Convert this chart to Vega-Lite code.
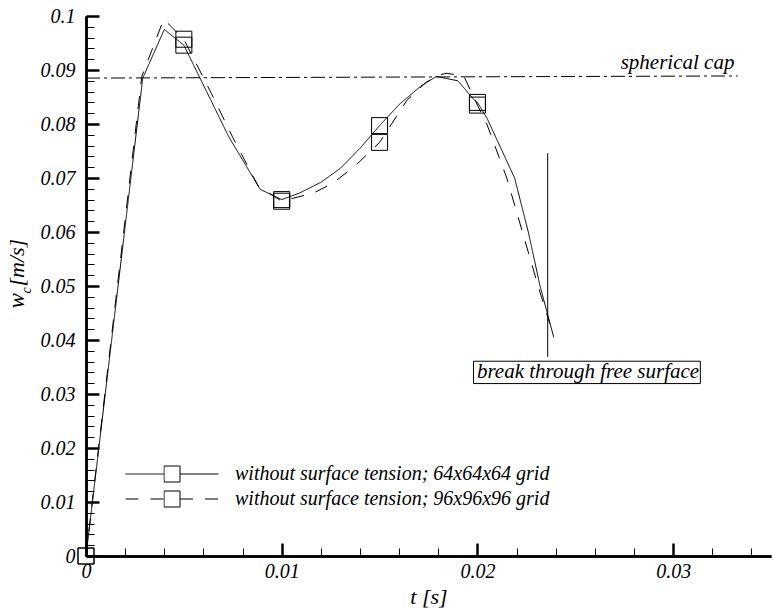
{
  "$schema": "https://vega.github.io/schema/vega-lite/v6.json",
  "width": 685,
  "height": 540,
  "autosize": "none",
  "padding": {"left": 86, "top": 16, "right": 2, "bottom": 55},
  "background": "white",
  "config": {
    "view": {"stroke": null},
    "font": "Liberation Serif, DejaVu Serif, serif",
    "axis": {
      "grid": false,
      "domainColor": "black",
      "tickColor": "black",
      "labelColor": "black",
      "titleColor": "black",
      "labelFont": "Liberation Serif, DejaVu Serif, serif",
      "titleFont": "Liberation Serif, DejaVu Serif, serif",
      "labelFontStyle": "italic",
      "titleFontStyle": "italic",
      "titleFontWeight": "normal",
      "labelFlush": false,
      "labelOverlap": false,
      "domainWidth": 2.5
    },
    "legend": {
      "labelFont": "Liberation Serif, DejaVu Serif, serif"
    }
  },
  "datasets": {
    "curves": [
      {"t": 0, "w": 0, "grid": "without surface tension; 64x64x64 grid"},
      {"t": 0.0029, "w": 0.0885, "grid": "without surface tension; 64x64x64 grid"},
      {"t": 0.004, "w": 0.0975, "grid": "without surface tension; 64x64x64 grid"},
      {"t": 0.005, "w": 0.0946, "grid": "without surface tension; 64x64x64 grid"},
      {"t": 0.0073, "w": 0.0776, "grid": "without surface tension; 64x64x64 grid"},
      {"t": 0.0089, "w": 0.0679, "grid": "without surface tension; 64x64x64 grid"},
      {"t": 0.01, "w": 0.066, "grid": "without surface tension; 64x64x64 grid"},
      {"t": 0.0109, "w": 0.0672, "grid": "without surface tension; 64x64x64 grid"},
      {"t": 0.012, "w": 0.0692, "grid": "without surface tension; 64x64x64 grid"},
      {"t": 0.013, "w": 0.0718, "grid": "without surface tension; 64x64x64 grid"},
      {"t": 0.014, "w": 0.0755, "grid": "without surface tension; 64x64x64 grid"},
      {"t": 0.015, "w": 0.0797, "grid": "without surface tension; 64x64x64 grid"},
      {"t": 0.016, "w": 0.0836, "grid": "without surface tension; 64x64x64 grid"},
      {"t": 0.0171, "w": 0.087, "grid": "without surface tension; 64x64x64 grid"},
      {"t": 0.0179, "w": 0.0888, "grid": "without surface tension; 64x64x64 grid"},
      {"t": 0.019, "w": 0.088, "grid": "without surface tension; 64x64x64 grid"},
      {"t": 0.0198, "w": 0.0846, "grid": "without surface tension; 64x64x64 grid"},
      {"t": 0.02, "w": 0.084, "grid": "without surface tension; 64x64x64 grid"},
      {"t": 0.0205, "w": 0.081, "grid": "without surface tension; 64x64x64 grid"},
      {"t": 0.0219, "w": 0.07, "grid": "without surface tension; 64x64x64 grid"},
      {"t": 0.0226, "w": 0.06, "grid": "without surface tension; 64x64x64 grid"},
      {"t": 0.0232, "w": 0.05, "grid": "without surface tension; 64x64x64 grid"},
      {"t": 0.0239, "w": 0.0405, "grid": "without surface tension; 64x64x64 grid"},
      {"t": 0, "w": 0, "grid": "without surface tension; 96x96x96 grid"},
      {"t": 0.00285, "w": 0.0888, "grid": "without surface tension; 96x96x96 grid"},
      {"t": 0.00397, "w": 0.0994, "grid": "without surface tension; 96x96x96 grid"},
      {"t": 0.005, "w": 0.0957, "grid": "without surface tension; 96x96x96 grid"},
      {"t": 0.0064, "w": 0.0857, "grid": "without surface tension; 96x96x96 grid"},
      {"t": 0.0075, "w": 0.0775, "grid": "without surface tension; 96x96x96 grid"},
      {"t": 0.0088, "w": 0.0685, "grid": "without surface tension; 96x96x96 grid"},
      {"t": 0.01, "w": 0.0657, "grid": "without surface tension; 96x96x96 grid"},
      {"t": 0.0116, "w": 0.0672, "grid": "without surface tension; 96x96x96 grid"},
      {"t": 0.0126, "w": 0.069, "grid": "without surface tension; 96x96x96 grid"},
      {"t": 0.0138, "w": 0.0724, "grid": "without surface tension; 96x96x96 grid"},
      {"t": 0.015, "w": 0.0766, "grid": "without surface tension; 96x96x96 grid"},
      {"t": 0.0164, "w": 0.0844, "grid": "without surface tension; 96x96x96 grid"},
      {"t": 0.0174, "w": 0.0878, "grid": "without surface tension; 96x96x96 grid"},
      {"t": 0.0181, "w": 0.0891, "grid": "without surface tension; 96x96x96 grid"},
      {"t": 0.0184, "w": 0.0894, "grid": "without surface tension; 96x96x96 grid"},
      {"t": 0.0193, "w": 0.0889, "grid": "without surface tension; 96x96x96 grid"},
      {"t": 0.02, "w": 0.0835, "grid": "without surface tension; 96x96x96 grid"},
      {"t": 0.0205, "w": 0.0798, "grid": "without surface tension; 96x96x96 grid"},
      {"t": 0.0215, "w": 0.07, "grid": "without surface tension; 96x96x96 grid"},
      {"t": 0.0223, "w": 0.06, "grid": "without surface tension; 96x96x96 grid"},
      {"t": 0.0231, "w": 0.05, "grid": "without surface tension; 96x96x96 grid"},
      {"t": 0.0237, "w": 0.043, "grid": "without surface tension; 96x96x96 grid"}
    ]
  },
  "resolve": {"axis": {"x": "independent", "y": "independent"}},
  "layer": [
    {
      "data": {"name": "curves"},
      "mark": {"type": "line", "color": "black", "strokeWidth": 1},
      "encoding": {
        "x": {
          "field": "t", "type": "quantitative",
          "scale": {"domain": [0, 0.035], "nice": false, "zero": false},
          "axis": {
            "orient": "bottom",
            "values": [0.002, 0.004, 0.006, 0.008, 0.012, 0.014, 0.016, 0.018, 0.022, 0.024, 0.026, 0.028, 0.032, 0.034],
            "labels": false, "tickSize": -8, "tickWidth": 1, "title": null
          }
        },
        "y": {
          "field": "w", "type": "quantitative",
          "scale": {"domain": [0, 0.1], "nice": false, "zero": false},
          "axis": {
            "orient": "left",
            "values": [0.002, 0.004, 0.006, 0.008, 0.012, 0.014, 0.016, 0.018, 0.022, 0.024, 0.026, 0.028, 0.032, 0.034, 0.036, 0.038, 0.042, 0.044, 0.046, 0.048, 0.052, 0.054, 0.056, 0.058, 0.062, 0.064, 0.066, 0.068, 0.072, 0.074, 0.076, 0.078, 0.082, 0.084, 0.086, 0.088, 0.092, 0.094, 0.096, 0.098],
            "labels": false, "tickSize": -8, "tickWidth": 1,
            "title": "w", "titleFontSize": 23, "titleAngle": 270, "titleAlign": "left", "titleBaseline": "alphabetic",
            "titleX": -63, "titleY": 292
          }
        },
        "strokeDash": {
          "field": "grid", "type": "nominal",
          "scale": {
            "domain": ["without surface tension; 64x64x64 grid", "without surface tension; 96x96x96 grid"],
            "range": [[1, 0], [13, 12]]
          },
          "legend": {
            "title": null, "orient": "none", "legendX": 39, "legendY": 445.5, "padding": 0,
            "symbolType": "M-1,0H-0.172M0.172,0H1", "symbolSize": 8649,
            "symbolStrokeColor": "black", "symbolStrokeWidth": 1,
            "clipHeight": 25, "rowPadding": 0, "labelOffset": 16,
            "labelFont": "Liberation Serif, DejaVu Serif, serif", "labelFontStyle": "italic", "labelFontSize": 20,
            "labelColor": "black", "labelLimit": 0
          }
        }
      }
    },
    {
      "data": {"name": "curves"},
      "transform": [{"filter": {"field": "t", "oneOf": [0, 0.005, 0.01, 0.015, 0.02]}}],
      "mark": {"type": "point", "filled": false, "color": "black", "strokeWidth": 1, "size": 256, "opacity": 1},
      "encoding": {
        "x": {
          "field": "t", "type": "quantitative",
          "scale": {"domain": [0, 0.035], "nice": false, "zero": false},
          "axis": {
            "orient": "bottom", "values": [0, 0.01, 0.02, 0.03], "format": "~g",
            "tickSize": -13, "tickWidth": 2.5, "labelPadding": 18, "labelFontSize": 20,
            "title": "t [s]", "titleFontSize": 22, "titleBaseline": "alphabetic", "titleY": 47
          }
        },
        "y": {
          "field": "w", "type": "quantitative",
          "scale": {"domain": [0, 0.1], "nice": false, "zero": false},
          "axis": {
            "orient": "left", "values": [0, 0.01, 0.02, 0.03, 0.04, 0.05, 0.06, 0.07, 0.08, 0.09, 0.1], "format": "~g",
            "tickSize": -13, "tickWidth": 2.5, "labelPadding": 24, "labelFontSize": 20,
            "title": "[m/s]", "titleFontSize": 22, "titleAngle": 270, "titleAlign": "left", "titleBaseline": "alphabetic",
            "titleX": -63, "titleY": 270
          }
        },
        "shape": {
          "field": "grid", "type": "nominal",
          "scale": {"range": ["square", "square"]},
          "legend": {
            "title": null, "orient": "none", "legendX": 77.5, "legendY": 445.5, "padding": 0,
            "clipHeight": 25, "rowPadding": 0, "labelExpr": "''", "labelFontSize": 1, "symbolSize": 256,
            "symbolStrokeColor": "black", "symbolFillColor": "white", "symbolStrokeWidth": 1
          }
        }
      }
    },
    {
      "data": {"values": [{"t": 0, "t2": 0.0333, "w": 0.0885, "w2": 0.0889}]},
      "mark": {"type": "rule", "color": "black", "strokeWidth": 1, "strokeDash": [14, 4, 3, 4]},
      "encoding": {
        "x": {"field": "t", "type": "quantitative", "scale": {"domain": [0, 0.035], "nice": false, "zero": false}, "axis": null},
        "x2": {"field": "t2"},
        "y": {
          "field": "w", "type": "quantitative", "scale": {"domain": [0, 0.1], "nice": false, "zero": false},
          "axis": {
            "orient": "left", "ticks": false, "labels": false, "domain": false,
            "title": "c", "titleFontSize": 14, "titleAngle": 270, "titleAlign": "left", "titleBaseline": "alphabetic",
            "titleX": -56, "titleY": 277
          }
        },
        "y2": {"field": "w2"}
      }
    },
    {
      "data": {"values": [{"t": 0.02359, "w": 0.0369, "w2": 0.0746}]},
      "mark": {"type": "rule", "color": "black", "strokeWidth": 1},
      "encoding": {
        "x": {"field": "t", "type": "quantitative", "axis": null},
        "y": {"field": "w", "type": "quantitative", "axis": null},
        "y2": {"field": "w2"}
      }
    },
    {
      "data": {"values": [{"t": 0.0198, "t2": 0.03139, "w": 0.03193, "w2": 0.03607}]},
      "mark": {"type": "rect", "fill": "white", "stroke": "black", "strokeWidth": 1},
      "encoding": {
        "x": {"field": "t", "type": "quantitative", "axis": null},
        "x2": {"field": "t2"},
        "y": {"field": "w", "type": "quantitative", "axis": null},
        "y2": {"field": "w2"}
      }
    },
    {
      "data": {"values": [{"t": 0.02565, "w": 0.034, "label": "break through free surface"}]},
      "mark": {"type": "text", "font": "Liberation Serif, DejaVu Serif, serif", "fontStyle": "italic", "fontSize": 21, "align": "center", "baseline": "middle", "color": "black"},
      "encoding": {
        "x": {"field": "t", "type": "quantitative", "axis": null},
        "y": {"field": "w", "type": "quantitative", "axis": null},
        "text": {"field": "label"}
      }
    },
    {
      "data": {"values": [{"t": 0.03313, "w": 0.0902, "label": "spherical cap"}]},
      "mark": {"type": "text", "font": "Liberation Serif, DejaVu Serif, serif", "fontStyle": "italic", "fontSize": 21, "align": "right", "baseline": "alphabetic", "color": "black"},
      "encoding": {
        "x": {"field": "t", "type": "quantitative", "axis": null},
        "y": {"field": "w", "type": "quantitative", "axis": null},
        "text": {"field": "label"}
      }
    }
  ]
}
